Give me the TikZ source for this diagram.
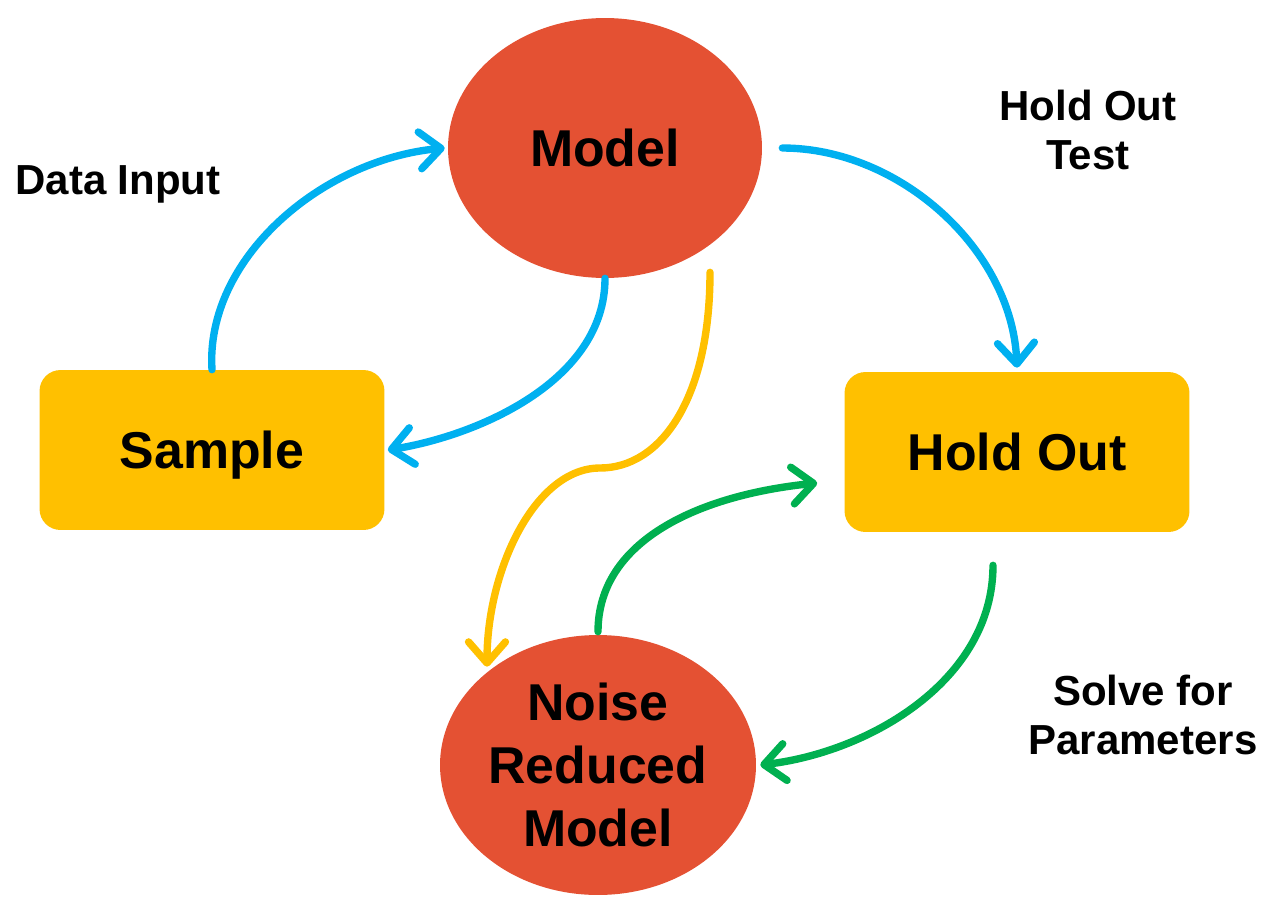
\documentclass[tikz,border=0pt]{standalone}
\usepackage{fontspec}
\setmainfont{Liberation Sans}
\usetikzlibrary{arrows.meta,calc,shapes.geometric}
\definecolor{nodered}{HTML}{E45133}
\definecolor{boxgold}{HTML}{FFC000}
\definecolor{flowblue}{HTML}{00B0F0}
\definecolor{flowgreen}{HTML}{00B050}
\tikzset{
  redoval/.style={ellipse, fill=nodered, inner sep=0pt, align=center,
    font=\fontsize{29.5}{35.7}\selectfont\bfseries},
  goldbox/.style={rectangle, rounded corners=0.42cm, fill=boxgold, inner sep=0pt,
    minimum width=6.9cm, minimum height=3.2cm, align=center, text depth=0pt,
    font=\fontsize{29.5}{35.7}\selectfont\bfseries},
  caption/.style={align=center, font=\fontsize{23.9}{28.4}\selectfont\bfseries},
  flow/.style={line width=4.2pt, line cap=round,
    -{Straight Barb[length=12pt,width=21pt,line width=4.2pt,line cap=round,round]}},
}
\begin{document}
\begin{tikzpicture}[x=0.02cm,y=-0.02cm]
\useasboundingbox (0,0) rectangle (1264,896);

% shapes
\node[redoval, minimum width=6.28cm, minimum height=5.2cm] (model) at (605,148) {Model};
\node[redoval, minimum width=6.32cm, minimum height=5.2cm] (noise) at (598,765) {Noise\\Reduced\\Model};
\node[goldbox] (sample) at (212,450) {Sample};
\node[goldbox] (holdout) at (1017,452) {Hold Out};

% labels
\node[caption] (datain) at (118,184) {Data Input};
\node[caption] (hotest) at (1088,130) {Hold Out\\Test};
\node[caption] (solve) at (1143,715) {Solve for\\Parameters};

% helper points for the flows
\coordinate (ystart) at ($(model.south)+(105,-6)$);
\coordinate (ymid) at (600,468);
\coordinate (yend) at ($(noise.north)+(-111,32)$);

% blue flows
\draw[flow, flowblue] (sample.north) .. controls (205,260) and (320,160) .. ($(model.west)+(-3,0)$);
\draw[flow, flowblue] (model.south) .. controls (605,380) and (480,435) .. ($(sample.east)+(3,0)$);
\draw[flow, flowblue] ($(model.east)+(20,0)$) .. controls (900,148) and (1012,250) .. ($(holdout.north)+(0,-4)$);

% yellow flow
\draw[flow, boxgold] (ystart) .. controls (710,400) and (660,468) .. (ymid)
  .. controls (535,468) and (487,570) .. (yend);

% green flows
\draw[flow, flowgreen] ($(noise.north)+(0,-3)$) .. controls (598,540) and (700,495) .. ($(holdout.west)+(-27,31)$);
\draw[flow, flowgreen] ($(holdout.south)+(-24,33)$) .. controls (993,680) and (870,752) .. ($(noise.east)+(4,0)$);
\end{tikzpicture}
\end{document}
